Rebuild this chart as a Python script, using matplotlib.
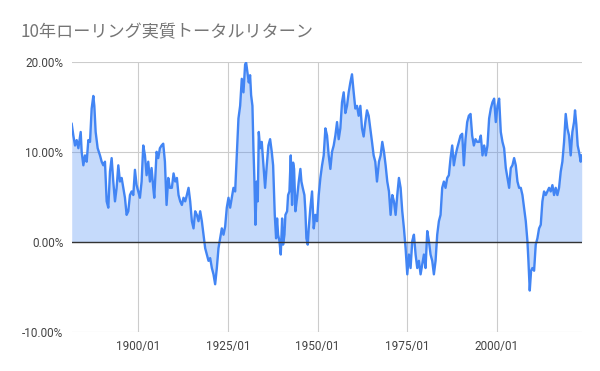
import matplotlib
matplotlib.use('Agg')
import matplotlib.pyplot as plt

plt.rcParams['font.family'] = ['Noto Sans CJK JP', 'DejaVu Sans']

years = [
    1881.43, 1881.89, 1882.36, 1882.82, 1883.29, 1883.94, 1884.21, 1884.68, 1885.14, 1885.61,
    1886.07, 1886.54, 1887.00, 1887.46, 1887.74, 1888.11, 1888.67, 1889.32, 1889.79, 1890.25,
    1890.71, 1891.18, 1891.64, 1892.11, 1892.57, 1893.03, 1893.50, 1893.96, 1894.43, 1894.89,
    1895.36, 1895.82, 1896.28, 1896.75, 1897.21, 1897.68, 1898.14, 1898.61, 1899.07, 1899.53,
    1900.00, 1900.46, 1900.93, 1901.39, 1901.86, 1902.32, 1902.78, 1903.25, 1903.71, 1904.18,
    1904.46, 1905.11, 1905.57, 1906.03, 1906.50, 1906.96, 1907.43, 1907.89, 1908.36, 1908.82,
    1909.37, 1909.84, 1910.30, 1910.77, 1911.23, 1911.70, 1912.16, 1912.62, 1913.09, 1913.55,
    1914.02, 1914.48, 1914.95, 1915.41, 1915.87, 1916.34, 1916.80, 1917.27, 1917.73, 1918.19,
    1918.66, 1919.12, 1919.59, 1920.05, 1920.52, 1920.98, 1921.44, 1921.91, 1922.37, 1922.84,
    1923.30, 1923.77, 1924.23, 1924.69, 1925.16, 1925.62, 1926.09, 1926.55, 1927.02, 1927.48,
    1927.94, 1928.41, 1928.87, 1929.34, 1929.80, 1930.08, 1930.45, 1930.82, 1931.19, 1931.47,
    1931.84, 1932.12, 1932.40, 1932.68, 1933.05, 1933.33, 1933.61, 1933.98, 1934.44, 1934.91,
    1935.37, 1935.84, 1936.30, 1936.77, 1937.23, 1937.61, 1938.07, 1938.44, 1938.72, 1939.00,
    1939.37, 1939.74, 1940.12, 1940.39, 1940.77, 1941.04, 1941.51, 1941.79, 1942.16, 1942.53,
    1942.90, 1943.18, 1943.46, 1943.83, 1944.29, 1944.76, 1945.22, 1945.50, 1945.87, 1946.34,
    1946.61, 1946.89, 1947.26, 1947.54, 1948.01, 1948.47, 1948.94, 1949.40, 1949.86, 1950.33,
    1950.79, 1951.26, 1951.72, 1952.19, 1952.65, 1953.11, 1953.58, 1954.04, 1954.51, 1954.97,
    1955.44, 1955.90, 1956.36, 1956.83, 1957.29, 1957.76, 1958.22, 1958.69, 1959.15, 1959.61,
    1960.08, 1960.54, 1961.01, 1961.47, 1961.94, 1962.40, 1962.86, 1963.33, 1963.79, 1964.26,
    1964.72, 1965.19, 1965.65, 1966.11, 1966.58, 1967.13, 1967.60, 1968.06, 1968.53, 1968.99,
    1969.45, 1969.92, 1970.38, 1970.85, 1971.31, 1971.78, 1972.24, 1972.70, 1973.17, 1973.63,
    1974.10, 1974.56, 1975.03, 1975.49, 1975.95, 1976.42, 1976.88, 1977.35, 1977.81, 1978.27,
    1978.74, 1979.20, 1979.67, 1980.13, 1980.60, 1981.06, 1981.52, 1981.99, 1982.45, 1982.92,
    1983.38, 1983.85, 1984.31, 1984.77, 1985.24, 1985.70, 1986.17, 1986.63, 1987.10, 1987.56,
    1988.02, 1988.49, 1988.95, 1989.42, 1989.88, 1990.35, 1990.81, 1991.27, 1991.74, 1992.20,
    1992.67, 1993.13, 1993.60, 1994.06, 1994.52, 1995.08, 1995.54, 1996.01, 1996.47, 1996.94,
    1997.40, 1997.86, 1998.33, 1998.79, 1999.26, 1999.72, 2000.19, 2000.65, 2001.11, 2001.58,
    2002.04, 2002.51, 2002.97, 2003.44, 2003.90, 2004.36, 2004.83, 2005.29, 2005.76, 2006.22,
    2006.69, 2007.15, 2007.61, 2008.08, 2008.54, 2008.82, 2009.19, 2009.56, 2009.93, 2010.40,
    2010.86, 2011.33, 2011.79, 2012.26, 2012.72, 2013.18, 2013.65, 2014.11, 2014.58, 2015.04,
    2015.51, 2015.97, 2016.43, 2016.90, 2017.36, 2017.83, 2018.29, 2018.76, 2019.22, 2019.68,
    2020.15, 2020.61, 2021.08, 2021.54, 2021.82, 2022.19, 2022.56, 2022.93, 2023.40, 2023.68,
]
returns = [
    13.1, 11.8, 10.7, 11.3, 10.4, 12.2, 10.0, 8.5, 9.6, 8.9,
    11.3, 11.1, 14.8, 16.2, 15.1, 12.2, 10.4, 9.6, 8.9, 8.5,
    8.9, 4.5, 3.8, 7.8, 9.3, 6.7, 4.5, 6.0, 8.5, 6.7,
    7.1, 6.0, 4.9, 3.0, 3.4, 5.2, 5.6, 5.2, 8.0, 6.3,
    5.6, 4.9, 6.7, 10.7, 9.6, 7.4, 8.9, 6.7, 8.2, 6.0,
    4.9, 10.0, 9.3, 10.4, 10.7, 10.9, 8.9, 4.1, 7.1, 6.0,
    6.0, 7.6, 6.7, 7.1, 5.2, 4.5, 4.1, 4.9, 4.5, 5.2,
    6.0, 4.5, 2.3, 1.5, 3.4, 3.0, 2.3, 3.4, 2.3, 0.8,
    -0.7, -1.4, -2.1, -1.8, -2.9, -3.6, -4.7, -2.9, -0.7, 0.4,
    1.5, 0.8, 1.7, 3.8, 4.9, 3.8, 4.9, 6.0, 5.6, 9.6,
    13.7, 15.1, 18.1, 16.6, 19.7, 19.9, 18.8, 17.7, 18.5, 16.3,
    15.1, 10.4, 6.7, 1.9, 6.7, 4.5, 12.2, 10.4, 11.1, 8.5,
    6.0, 8.5, 10.7, 11.4, 10.0, 8.5, 3.0, 0.4, 2.6, 0.8,
    0.1, -1.4, 2.6, -0.3, 0.8, 3.0, 3.4, 5.2, 5.6, 9.6,
    4.1, 8.8, 8.1, 3.4, 4.9, 6.7, 8.1, 6.7, 6.0, 5.2,
    3.4, 0.4, -0.3, 1.5, 3.8, 5.6, 1.5, 3.0, 2.3, 5.2,
    7.1, 8.5, 9.6, 12.6, 11.8, 9.6, 8.1, 10.0, 10.7, 11.8,
    13.3, 11.4, 12.6, 15.5, 16.6, 14.3, 15.1, 16.6, 17.7, 18.6,
    16.6, 14.8, 15.1, 14.0, 15.1, 12.6, 11.7, 13.3, 14.6, 14.0,
    12.6, 11.1, 9.6, 8.9, 6.7, 8.9, 9.6, 11.1, 10.0, 8.5,
    6.7, 5.6, 3.0, 5.2, 4.5, 3.0, 5.2, 7.1, 6.0, 3.4,
    1.5, -0.7, -3.6, -1.4, -2.9, 0.1, 0.8, -1.4, -2.9, -2.1,
    -3.6, -2.5, -1.4, -2.9, 1.2, 0.1, -1.4, -2.1, -3.6, -2.1,
    0.8, 2.3, 3.0, 6.0, 6.7, 6.0, 7.1, 7.4, 9.3, 10.7,
    8.5, 9.6, 10.4, 11.1, 11.8, 12.0, 8.5, 11.4, 13.3, 14.0,
    14.2, 11.8, 10.7, 11.4, 11.1, 11.1, 11.8, 9.6, 10.7, 9.6,
    10.7, 13.7, 14.8, 15.5, 15.9, 13.3, 15.1, 15.9, 12.2, 11.1,
    10.4, 8.2, 7.1, 6.0, 8.2, 8.5, 9.3, 8.5, 6.7, 6.0,
    6.0, 5.2, 3.8, 2.3, 0.1, -2.1, -5.4, -3.2, -2.9, -3.2,
    -0.3, 0.4, 1.5, 1.9, 4.5, 5.6, 5.2, 5.6, 6.0, 5.6,
    6.3, 5.2, 6.0, 5.2, 6.0, 7.8, 8.9, 11.1, 14.2, 12.6,
    11.8, 9.6, 12.2, 13.3, 14.6, 13.0, 10.7, 10.0, 8.9, 9.6,
]

title = '10年ローリング実質トータルリターン'
x_ticks = [1900, 1925, 1950, 1975, 2000]
x_labels = ['1900/01', '1925/01', '1950/01', '1975/01', '2000/01']
y_ticks = [-10, 0, 10, 20]

C_LINE = '#4285F4'

fig = plt.figure(figsize=(6, 3.71), dpi=100)
ax = fig.add_axes([0.1195, 0.1051, 0.85, 0.7286])

ax.fill_between(years, returns, 0, color=C_LINE, alpha=0.3, lw=0, zorder=2)
ax.plot(years, returns, color=C_LINE, lw=1.7, zorder=3)
ax.axhline(0, color='#333333', lw=1.0, zorder=4)

ax.set_xlim(years[0], years[-1])
ax.set_ylim(-10, 20)
ax.set_xticks(x_ticks)
ax.set_xticklabels(x_labels)
ax.set_yticks(y_ticks)
ax.set_yticklabels([f'{v:.2f}%' for v in y_ticks])

ax.grid(True, color='#cccccc', lw=0.8, zorder=0)
for s in ax.spines.values():
    s.set_visible(False)
ax.tick_params(length=0, labelsize=8.5, colors='#444444', pad=6)
for lab in ax.get_xticklabels() + ax.get_yticklabels():
    lab.set_family(['Roboto', 'DejaVu Sans'])

fig.text(20 / 600, 1 - 32 / 371, title, fontsize=12.3, color='#757575',
         ha='left', va='center')

fig.savefig('out.png', dpi=100)
